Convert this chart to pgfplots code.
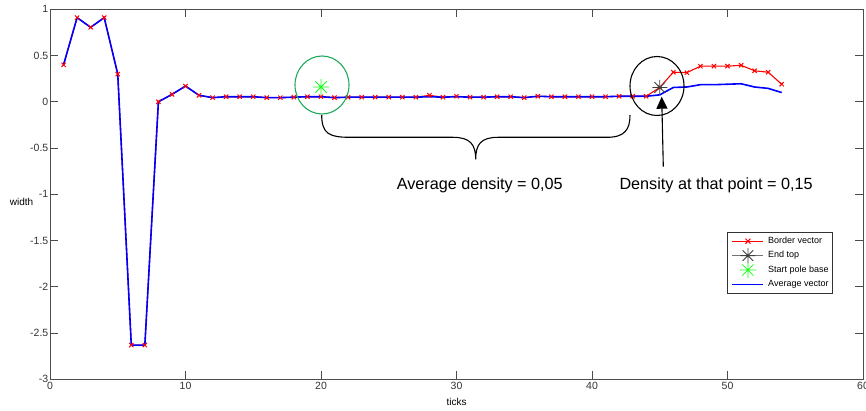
\documentclass[border=0pt]{standalone}
\usepackage{pgfplots}
\pgfplotsset{compat=1.18}
\usepackage{pgfplotstable}
\usepackage{fontspec}
\setmainfont{Liberation Sans}
\usetikzlibrary{arrows.meta}

\makeatletter
\tikzset{resetstroke/.code={\let\tikz@strokecolor\pgfutil@empty}}
\makeatother

\pgfdeclareplotmark{mstar}{%
  \pgfpathmoveto{\pgfqpoint{-\pgfplotmarksize}{0pt}}%
  \pgfpathlineto{\pgfqpoint{\pgfplotmarksize}{0pt}}%
  \pgfpathmoveto{\pgfqpoint{0pt}{-\pgfplotmarksize}}%
  \pgfpathlineto{\pgfqpoint{0pt}{\pgfplotmarksize}}%
  \pgfpathmoveto{\pgfqpoint{-.7071\pgfplotmarksize}{-.7071\pgfplotmarksize}}%
  \pgfpathlineto{\pgfqpoint{.7071\pgfplotmarksize}{.7071\pgfplotmarksize}}%
  \pgfpathmoveto{\pgfqpoint{-.7071\pgfplotmarksize}{.7071\pgfplotmarksize}}%
  \pgfpathlineto{\pgfqpoint{.7071\pgfplotmarksize}{-.7071\pgfplotmarksize}}%
  \pgfusepathqstroke}

\pgfplotstableread{
x y
1 0.40
2 0.91
3 0.805
4 0.91
5 0.30
6 -2.63
7 -2.63
8 0.00
9 0.08
10 0.17
11 0.07
12 0.045
13 0.055
14 0.055
15 0.055
16 0.045
17 0.045
18 0.05
19 0.055
20 0.055
21 0.045
22 0.05
23 0.05
24 0.05
25 0.05
26 0.05
27 0.05
28 0.07
29 0.05
30 0.06
31 0.05
32 0.05
33 0.055
34 0.055
35 0.045
36 0.06
37 0.055
38 0.055
39 0.055
40 0.055
41 0.055
42 0.06
43 0.06
44 0.06
45 0.155
46 0.32
47 0.315
48 0.385
49 0.385
50 0.385
51 0.395
52 0.335
53 0.32
54 0.19
}\border

\pgfplotstableread{
x y
1 0.40
2 0.91
3 0.805
4 0.91
5 0.30
6 -2.63
7 -2.63
8 0.00
9 0.08
10 0.17
11 0.07
12 0.045
13 0.055
14 0.055
15 0.055
16 0.045
17 0.045
18 0.05
19 0.055
20 0.055
21 0.045
22 0.05
23 0.05
24 0.05
25 0.05
26 0.05
27 0.05
28 0.055
29 0.05
30 0.055
31 0.05
32 0.05
33 0.055
34 0.055
35 0.045
36 0.06
37 0.055
38 0.055
39 0.055
40 0.055
41 0.055
42 0.06
43 0.06
44 0.06
45 0.075
46 0.155
47 0.16
48 0.185
49 0.185
50 0.19
51 0.195
52 0.16
53 0.145
54 0.10
}\average

\begin{document}
\begin{tikzpicture}
\begin{axis}[
  at={(0,0)}, anchor=south west,
  scale only axis, width=813pt, height=370pt,
  xmin=0, xmax=60, ymin=-3, ymax=1,
  xtick={0,10,20,30,40,50,60},
  xticklabels={0,10,20,30,40,50,60},
  ytick={-3,-2.5,-2,-1.5,-1,-0.5,0,0.5,1},
  yticklabels={-3,-2.5,-2,-1.5,-1,-0.5,0,0.5,1},
  tick align=inside, major tick length=8pt,
  xtick pos=both, ytick pos=both,
  axis line style={black!70, line width=0.9pt},
  tick style={black!70, line width=0.9pt},
  ticklabel style={font=\fontsize{10.5}{12}\selectfont, text=black!80},
  yticklabel style={inner sep=1.5pt},
  xticklabel style={inner sep=1pt, yshift=-2pt},
  xlabel={ticks}, ylabel={width},
  xlabel style={font=\fontsize{10}{12}\selectfont, at={(axis description cs:0.5,-0.0614)}, anchor=center},
  ylabel style={font=\fontsize{10}{12}\selectfont, rotate=-90, at={(axis description cs:-0.035,0.479)}, anchor=center},
  legend cell align=left,
  legend image code/.code={%
    \path (0pt,-3pt) (31pt,3pt);
    \draw[overlay,resetstroke,mark repeat=2,mark phase=2,#1] plot coordinates {(0pt,0pt) (15.5pt,0pt) (31pt,0pt)};},
  legend style={at={(0.8331,0.3989)}, anchor=north west, draw=black!80, line width=0.6pt,
    fill=white, font=\fontsize{9}{10}\selectfont, inner xsep=4pt, inner ysep=2pt,
    nodes={inner sep=0pt, text height=9.4pt, text depth=5pt}, column sep=4pt, row sep=0pt},
]
\addplot[color=red, draw=red, line width=1.1pt, mark=x, mark size=3pt, mark options={solid, draw=red, line width=1pt},
  legend image code/.code={%
    \path (0pt,-3pt) (31pt,3pt);
    \draw[overlay, resetstroke, draw=red, line width=1.1pt] (0pt,0pt) -- (31pt,0pt);
    \draw[overlay, resetstroke, draw=red, line width=1pt] (13pt,-2.5pt) -- (18pt,2.5pt) (13pt,2.5pt) -- (18pt,-2.5pt);}]
  table[x=x,y=y] {\border};
\addlegendentry{Border vector}
\addplot[color=black!55, draw=black!55, line width=0.9pt, mark=mstar, mark size=7.5pt, mark options={draw=black!75, line width=0.8pt}] coordinates {(45,0.155)};
\addlegendentry{End top}
\addplot[only marks, mark=mstar, mark size=8pt, mark options={draw=green!90, line width=0.8pt}] coordinates {(20,0.16)};
\addlegendentry{Start pole base}
\addplot[color=blue, draw=blue, line width=1.6pt] table[x=x,y=y] {\average};
\addlegendentry{Average vector}
\end{axis}
% annotations (pt relative to axis lower-left)
\draw[color={rgb,255:red,30;green,170;blue,90}, line width=1.1pt] (272pt,294.3pt) ellipse [x radius=27pt, y radius=29pt];
\draw[black, line width=1.1pt] (607pt,293.3pt) ellipse [x radius=27pt, y radius=29.5pt];
\draw[black, line width=1.1pt] (271.7pt,264.3pt) .. controls (271.7pt,245pt) and (280pt,242pt) .. (300pt,242pt)
  -- (403pt,242pt) .. controls (420pt,242pt) and (425.7pt,235pt) .. (425.7pt,220pt)
  .. controls (425.7pt,235pt) and (431pt,242pt) .. (448pt,242pt)
  -- (557pt,242pt) .. controls (575pt,242pt) and (580pt,250pt) .. (580pt,264.3pt);
\draw[black, line width=1.1pt, -{Triangle[length=12pt,width=11pt]}] (613.3pt,212.6pt) -- (611.7pt,282.6pt);
\node[anchor=base, inner sep=0pt, font=\fontsize{16.2}{18}\selectfont] at (429.8pt,190pt) {Average density = 0,05};
\node[anchor=base west, inner sep=0pt, font=\fontsize{16.2}{18}\selectfont] at (569.3pt,190pt) {Density at that point = 0,15};
\pgfresetboundingbox
\path[use as bounding box] (-50pt,-30.7pt) rectangle (816pt,379.3pt);
\end{tikzpicture}
\end{document}
